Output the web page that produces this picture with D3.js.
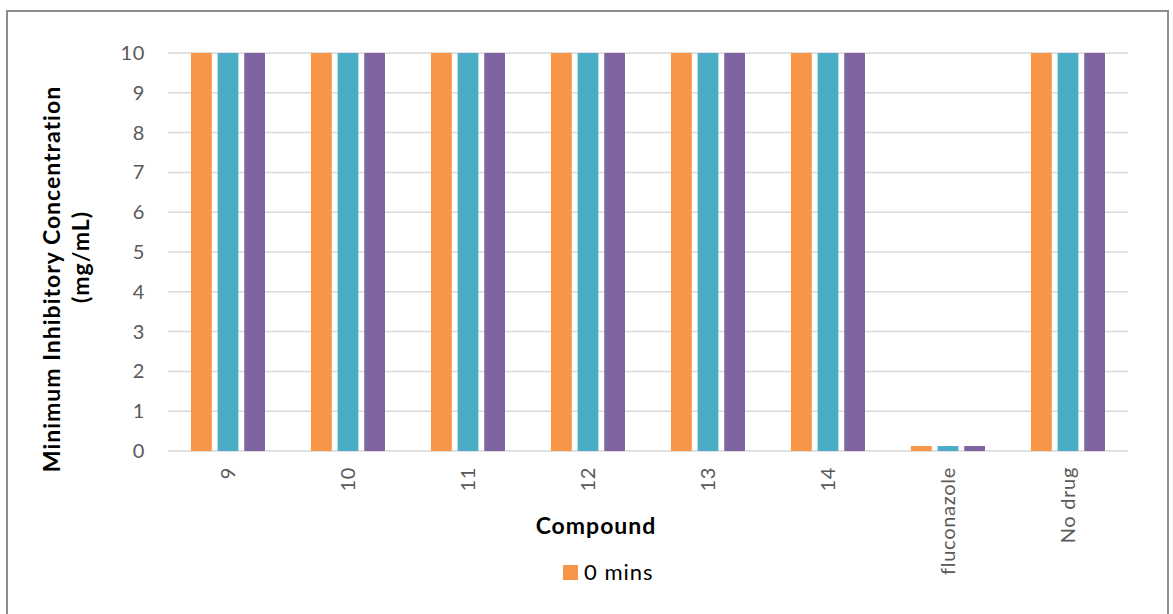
<!DOCTYPE html>
<html>
<head>
<meta charset="utf-8">
<script src="https://cdn.jsdelivr.net/npm/d3@7"></script>
<style>
  html, body { margin: 0; padding: 0; background: #fff; }
  svg { display: block; }
</style>
</head>
<body>
<svg id="chart" width="1173" height="614"></svg>
<script>
// Compounds tested and MIC readings (mg/mL) per time point
const categories = ["9", "10", "11", "12", "13", "14", "fluconazole", "No drug"];
const seriesA = [10, 10, 10, 10, 10, 10, 0.125, 10];
const seriesB = [10, 10, 10, 10, 10, 10, 0.125, 10];
const seriesC = [10, 10, 10, 10, 10, 10, 0.125, 10];
const seriesColors = ["#F79646", "#4BACC6", "#8064A2"];
const legendLabels = ["0 mins"];
const yTicks = [0, 1, 2, 3, 4, 5, 6, 7, 8, 9, 10];

const allSeries = [seriesA, seriesB, seriesC];
const svg = d3.select("#chart");
const font = "Lato, 'Open Sans', sans-serif";

// Outer chart frame
svg.append("rect")
  .attr("x", 7).attr("y", 11).attr("width", 1161).attr("height", 620)
  .attr("fill", "#fff").attr("stroke", "#8c8c8c").attr("stroke-width", 2);

const plot = { left: 168, right: 1128, top: 53, bottom: 451 };

const x = d3.scaleBand().domain(categories).range([plot.left, plot.right]).paddingInner(0).paddingOuter(0);
const y = d3.scaleLinear().domain([0, 10]).range([plot.bottom, plot.top]);
const inner = d3.scaleBand().domain(d3.range(allSeries.length))
  .range([23, 97]).paddingInner(0.22);

// Horizontal gridlines
svg.append("g").selectAll("line").data(yTicks).join("line")
  .attr("x1", plot.left).attr("x2", plot.right)
  .attr("y1", d => y(d)).attr("y2", d => y(d))
  .attr("stroke", "#d9d9d9").attr("stroke-width", 1.5);

// Y axis tick labels
const yAxis = d3.axisLeft(y).tickValues(yTicks).tickSize(0).tickPadding(0);
const yg = svg.append("g").attr("transform", `translate(${plot.left - 23},0)`).call(yAxis);
yg.select(".domain").remove();
yg.selectAll("text").attr("font-family", font).attr("font-size", 20)
  .attr("letter-spacing", 0.7).attr("fill", "#595959");

// Bars
allSeries.forEach((vals, si) => {
  svg.append("g").selectAll("rect").data(categories).join("rect")
    .attr("x", c => x(c) + inner(si))
    .attr("width", inner.bandwidth())
    .attr("y", (c, i) => y(vals[i]))
    .attr("height", (c, i) => y(0) - y(vals[i]))
    .attr("fill", seriesColors[si]);
});

// X axis tick labels (rotated)
const xAxis = d3.axisBottom(x).tickSize(0).tickPadding(0);
const xg = svg.append("g").attr("transform", `translate(0,${plot.bottom})`).call(xAxis);
xg.select(".domain").remove();
xg.selectAll("text")
  .attr("font-family", font).attr("font-size", 20).attr("fill", "#595959")
  .attr("letter-spacing", 0.7)
  .attr("text-anchor", "end")
  .attr("dy", "0.35em")
  .attr("transform", "translate(0,16) rotate(-90)")
  .attr("x", 0).attr("y", 0);

// Axis titles
svg.append("text")
  .attr("x", 596).attr("y", 534)
  .attr("text-anchor", "middle")
  .attr("font-family", font).attr("font-weight", "bold").attr("font-size", 23)
  .attr("letter-spacing", 1)
  .attr("fill", "#000").text("Compound");

const yTitle = svg.append("g");
yTitle.append("text")
  .attr("transform", `translate(60,279) rotate(-90)`)
  .attr("text-anchor", "middle")
  .attr("font-family", font).attr("font-weight", "bold").attr("font-size", 23)
  .attr("letter-spacing", 1)
  .attr("fill", "#000").text("Minimum Inhibitory Concentration");
yTitle.append("text")
  .attr("transform", `translate(89,257) rotate(-90)`)
  .attr("text-anchor", "middle")
  .attr("font-family", font).attr("font-weight", "bold").attr("font-size", 23)
  .attr("letter-spacing", 1)
  .attr("fill", "#000").text("(mg/mL)");

// Legend
const lg = svg.append("g").attr("transform", "translate(563,565)");
legendLabels.forEach((lab, i) => {
  lg.append("rect").attr("x", 0).attr("y", 0).attr("width", 15).attr("height", 15).attr("fill", seriesColors[i]);
  lg.append("text").attr("x", 21).attr("y", 15)
    .attr("font-family", font).attr("font-size", 22).attr("letter-spacing", 1)
    .attr("fill", "#000").text(lab);
});
</script>
</body>
</html>
